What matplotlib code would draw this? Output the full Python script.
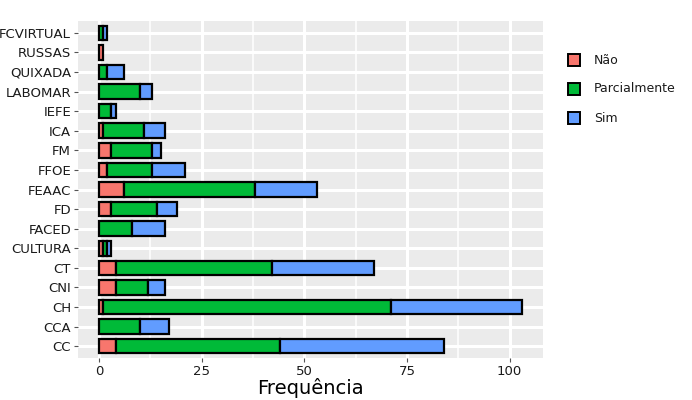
import matplotlib.pyplot as plt
import numpy as np

# Dados (de baixo para cima)
unidades = ['CC', 'CCA', 'CH', 'CNI', 'CT', 'CULTURA', 'FACED', 'FD', 'FEAAC',
            'FFOE', 'FM', 'ICA', 'IEFE', 'LABOMAR', 'QUIXADA', 'RUSSAS', 'FCVIRTUAL']
nao = [4, 0, 1, 4, 4, 1, 0, 3, 6, 2, 3, 1, 0, 0, 0, 1, 0]
parcialmente = [40, 10, 70, 8, 38, 1, 8, 11, 32, 11, 10, 10, 3, 10, 2, 0, 1]
sim = [40, 7, 32, 4, 25, 1, 8, 5, 15, 8, 2, 5, 1, 3, 4, 0, 1]

cores = {'Não': '#F8766D', 'Parcialmente': '#00BA38', 'Sim': '#619CFF'}

fig = plt.figure(figsize=(6.92, 4.0), dpi=100)
ax = fig.add_axes([78 / 692, 1 - 358 / 400, (543 - 78) / 692, (358 - 21) / 400])
ax.set_facecolor('#EBEBEB')

y = np.arange(1, len(unidades) + 1)
esquerda = np.zeros(len(unidades))
for nome, vals in [('Não', nao), ('Parcialmente', parcialmente), ('Sim', sim)]:
    vals = np.array(vals, dtype=float)
    mask = vals > 0
    ax.barh(y[mask], vals[mask], left=esquerda[mask], height=0.74,
            color=cores[nome], edgecolor='black', linewidth=1.6, zorder=3)
    esquerda += vals

# grade estilo ggplot
total = max(esquerda)
ax.set_xlim(-total * 0.05, total * 1.05)
ax.set_ylim(0.4, len(unidades) + 0.6)
ax.set_xticks([0, 25, 50, 75, 100])
ax.set_xticks([12.5, 37.5, 62.5, 87.5], minor=True)
ax.set_yticks(y)
ax.set_yticklabels(unidades)
ax.grid(True, which='major', color='white', linewidth=2.2, zorder=0)
ax.grid(True, which='minor', axis='x', color='white', linewidth=1.1, zorder=0)
ax.set_axisbelow(True)
for s in ax.spines.values():
    s.set_visible(False)
ax.tick_params(axis='both', which='major', length=3, color='#555555',
               labelsize=9.5, labelcolor='#1a1a1a', pad=2)
ax.tick_params(axis='both', which='minor', length=0)
ax.set_xlabel('Frequência', fontsize=14, labelpad=0)

# legenda
for i, nome in enumerate(['Não', 'Parcialmente', 'Sim']):
    yy = 1 - (60 + 29 * i) / 400
    fig.patches.append(plt.Rectangle((568 / 692, yy - 6 / 400), 12 / 692, 12 / 400,
                                     transform=fig.transFigure, facecolor=cores[nome],
                                     edgecolor='black', linewidth=1.4))
    fig.text(594 / 692, yy, nome, fontsize=9, va='center', color='#1a1a1a')

fig.savefig('out.png', dpi=100, facecolor='white')
